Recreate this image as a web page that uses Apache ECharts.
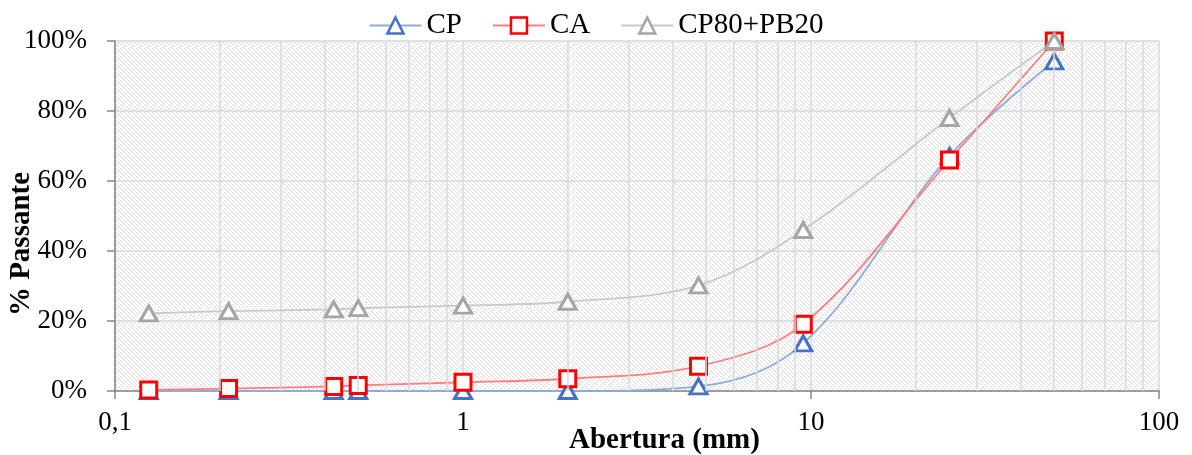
<!DOCTYPE html>
<html>
<head>
<meta charset="utf-8">
<script src="https://cdn.jsdelivr.net/npm/echarts@6/dist/echarts.min.js"></script>
<style>
  html, body { margin: 0; padding: 0; background: #fff; }
  #chart { width: 1192px; height: 455px; }
</style>
</head>
<body>
<div id="chart"></div>
<script>
// Sieve openings (mm) and cumulative passing (%) for each material
const aberturas = [0.125, 0.212, 0.425, 0.5, 1, 2, 4.75, 9.5, 25, 50];
const cp        = [0, 0, 0, 0, 0, 0, 1.3, 13.6, 67.2, 94.2];
const ca        = [0.3, 0.7, 1.3, 1.6, 2.5, 3.5, 7.1, 19.1, 66.0, 100];
const cpPb      = [22.2, 22.8, 23.3, 23.7, 24.4, 25.5, 30.2, 46.0, 78.0, 100];
const seriesNames = ['CP', 'CA', 'CP80+PB20'];

// Minor vertical grid lines (2..9 within each decade)
const decades = [0.1, 1, 10];
const minorLines = [];
decades.forEach(d => { for (let k = 2; k <= 9; k++) minorLines.push(+(d * k).toPrecision(3)); });

// Diagonal hatch used as the plot-area fill
function hatchPattern() {
  const c = document.createElement('canvas');
  c.width = 8; c.height = 8;
  const g = c.getContext('2d');
  g.fillStyle = '#ffffff';
  g.fillRect(0, 0, 8, 8);
  g.fillStyle = '#d8d8d8';
  for (let y = 0; y < 8; y++) {
    for (let x = 0; x < 8; x++) {
      const d = ((x - y) % 4 + 4) % 4;
      if (d === 0 && ((x + y) % 8) < 6) g.fillRect(x, y, 1, 1);
    }
  }
  return c;
}

const FONT = '"Liberation Serif", "Times New Roman", serif';
const pairs = arr => aberturas.map((x, i) => [x, arr[i]]);

const chart = echarts.init(document.getElementById('chart'), null, { renderer: 'canvas' });
chart.setOption({
  animation: false,
  backgroundColor: '#ffffff',
  textStyle: { fontFamily: FONT },
  grid: {
    left: 115, right: 33, top: 41, bottom: 64,
    show: true,
    borderWidth: 0,
    backgroundColor: { image: hatchPattern(), repeat: 'repeat' }
  },
  legend: {
    data: seriesNames,
    top: 6,
    left: 'center',
    itemWidth: 52,
    itemHeight: 20,
    itemGap: 30,
    itemStyle: { borderWidth: 2.5 },
    textStyle: { fontFamily: FONT, fontSize: 29, color: '#000' }
  },
  xAxis: {
    type: 'log',
    logBase: 10,
    min: 0.1,
    max: 100,
    axisLine: { show: true, onZero: false, lineStyle: { color: '#868686', width: 1.5 } },
    axisTick: { show: true, inside: false, length: 8, lineStyle: { color: '#868686', width: 1.5 } },
    axisLabel: {
      margin: 18,
      fontFamily: FONT, fontSize: 27, color: '#000',
      formatter: v => String(v).replace('.', ',')
    },
    splitLine: { show: true, lineStyle: { color: '#d9d9d9', width: 1.5 } },
    minorTick: { show: false },
    minorSplitLine: { show: false }
  },
  yAxis: {
    type: 'value',
    min: 0,
    max: 100,
    interval: 20,
    axisLine: { show: true, lineStyle: { color: '#868686', width: 1.5 } },
    axisTick: { show: true, inside: false, length: 8, lineStyle: { color: '#868686', width: 1.5 } },
    axisLabel: {
      margin: 28,
      fontFamily: FONT, fontSize: 27, color: '#000',
      formatter: '{value}%'
    },
    splitLine: { show: true, lineStyle: { color: '#d9d9d9', width: 1.5 } }
  },
  graphic: [
    {
      type: 'text',
      left: 569, top: 426,
      style: { text: 'Abertura (mm)', font: 'bold 29px ' + FONT, fill: '#000' }
    },
    {
      type: 'text',
      x: 22, y: 244,
      rotation: Math.PI / 2,
      style: {
        text: '% Passante', font: 'bold 29px ' + FONT, fill: '#000',
        align: 'center', verticalAlign: 'middle'
      }
    }
  ],
  series: [
    {
      name: 'minor-grid',
      type: 'line',
      data: [],
      silent: true,
      z: 1,
      markLine: {
        silent: true,
        symbol: 'none',
        animation: false,
        label: { show: false },
        lineStyle: { color: '#d9d9d9', width: 1.5, type: 'solid' },
        emphasis: { disabled: true },
        data: minorLines.map(v => ({ xAxis: v }))
      }
    },
    {
      name: 'CP',
      type: 'line',
      data: pairs(cp),
      smooth: 0.35,
      z: 3,
      symbol: 'triangle',
      symbolSize: [17, 15],
      lineStyle: { color: '#8faadc', width: 1.8 },
      itemStyle: { color: '#ffffff', borderColor: '#4472c4', borderWidth: 3 }
    },
    {
      name: 'CA',
      type: 'line',
      data: pairs(ca),
      smooth: 0.35,
      z: 4,
      symbol: 'rect',
      symbolSize: 16,
      lineStyle: { color: '#ff7c80', width: 1.8 },
      itemStyle: { color: '#ffffff', borderColor: '#ff0000', borderWidth: 3 }
    },
    {
      name: 'CP80+PB20',
      type: 'line',
      data: pairs(cpPb),
      smooth: 0.35,
      z: 5,
      symbol: 'triangle',
      symbolSize: [17, 15],
      lineStyle: { color: '#c9c9c9', width: 1.8 },
      itemStyle: { color: '#ffffff', borderColor: '#a5a5a5', borderWidth: 3 }
    }
  ]
});
</script>
</body>
</html>
